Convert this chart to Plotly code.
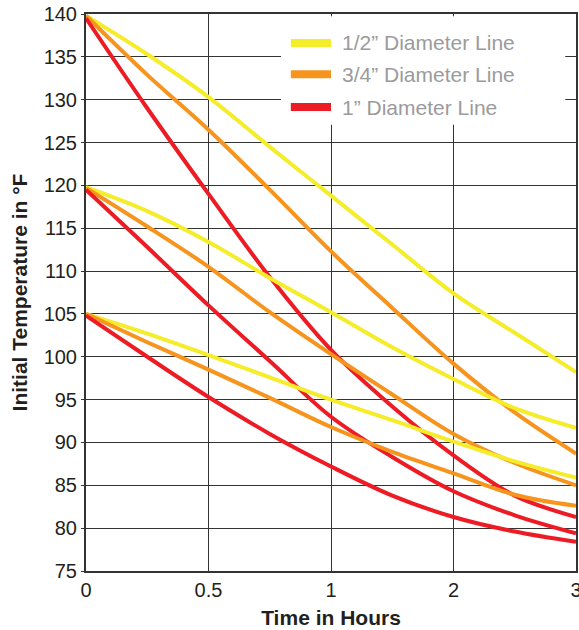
import numpy as np
import plotly.graph_objects as go

# ---- data ----
hours = [0, 0.25, 0.5, 0.75, 1, 1.5, 2, 2.5, 3]
tick_hours = [0, 0.5, 1, 2, 3]
tick_labels = ["0", "0.5", "1", "2", "3"]

half_140 = [139.8, 135.3, 130.3, 124.5, 118.8, 113.1, 107.4, 102.8, 98.2]
threeq_140 = [139.8, 132.9, 126.5, 119.5, 112.3, 105.7, 99.2, 93.5, 88.7]
one_140 = [139.5, 129.0, 119.0, 109.3, 100.8, 94.2, 88.5, 83.8, 81.3]

half_120 = [119.8, 117.0, 113.4, 109.2, 105.2, 101.1, 97.4, 94.0, 91.7]
threeq_120 = [119.7, 115.2, 110.5, 105.2, 100.3, 95.6, 91.0, 87.6, 85.0]
one_120 = [119.5, 112.8, 106.0, 99.5, 93.0, 88.3, 84.3, 81.5, 79.4]

half_105 = [105.0, 102.7, 100.2, 97.6, 95.0, 92.6, 90.1, 87.8, 85.9]
threeq_105 = [105.0, 101.7, 98.5, 95.2, 91.8, 88.9, 86.4, 83.9, 82.6]
one_105 = [104.8, 100.0, 95.3, 91.0, 87.2, 83.8, 81.3, 79.6, 78.4]

legend_names = ["1/2\u201d Diameter Line", "3/4\u201d Diameter Line", "1\u201d Diameter Line"]
colors = ["#F5EC2A", "#F7941E", "#ED1C24"]

# the time axis uses equally spaced ticks for 0, 0.5, 1, 2, 3 hours
tick_pos = list(range(len(tick_hours)))
xpos = np.interp(hours, tick_hours, tick_pos)

fig = go.Figure()
groups = [
    (half_140, threeq_140, one_140),
    (half_120, threeq_120, one_120),
    (half_105, threeq_105, one_105),
]
for grp in groups:
    for i, ys in enumerate(grp):
        fig.add_trace(go.Scatter(
            x=xpos, y=ys, mode="lines",
            line=dict(color=colors[i], width=4, shape="spline", smoothing=1.0),
            showlegend=False, hoverinfo="skip",
        ))

# legend drawn as shapes + text (white box covers the grid)
shapes = [dict(type="rect", xref="paper", yref="paper",
               x0=0.398, x1=0.978, y0=0.801, y1=0.996,
               fillcolor="white", line=dict(width=0), layer="above")]
row_y = [0.948, 0.892, 0.833]
annotations = []
for i in range(3):
    shapes.append(dict(type="line", xref="paper", yref="paper",
                       x0=0.418, x1=0.5, y0=row_y[i], y1=row_y[i],
                       line=dict(color=colors[i], width=8), layer="above"))
    annotations.append(dict(xref="paper", yref="paper", x=0.518, y=row_y[i],
                            text=legend_names[i], showarrow=False,
                            xanchor="left", yanchor="middle",
                            font=dict(family="Liberation Sans", size=21, color="#9B9B9B")))

axis_common = dict(
    showgrid=True, gridcolor="#333333", gridwidth=1.3,
    showline=True, linecolor="#333333", linewidth=2, mirror=True,
    zeroline=False, automargin=False, ticklabeloverflow="allow",
    tickfont=dict(family="Liberation Sans", size=20, color="#231F20"),
)

fig.update_layout(
    width=579, height=630,
    margin=dict(l=86, r=3, t=14, b=59),
    paper_bgcolor="white", plot_bgcolor="white",
    shapes=shapes, annotations=annotations,
    xaxis=dict(range=[0, 4], tickmode="array", tickvals=tick_pos, ticktext=tick_labels,
               ticks="", title=dict(text="<b>Time in Hours</b>", standoff=10,
                                    font=dict(family="Liberation Sans", size=21, color="#231F20")),
               **axis_common),
    yaxis=dict(range=[75, 140], tickmode="array", tickvals=list(range(75, 141, 5)),
               ticks="outside", ticklen=3, tickcolor="#333333",
               title=dict(text="<b>Initial Temperature in \u00b0F</b>", standoff=10,
                          font=dict(family="Liberation Sans", size=21, color="#231F20")),
               **axis_common),
)

fig.write_html("out.html", config={"displayModeBar": False},
               post_script="document.body.style.margin='0';")
